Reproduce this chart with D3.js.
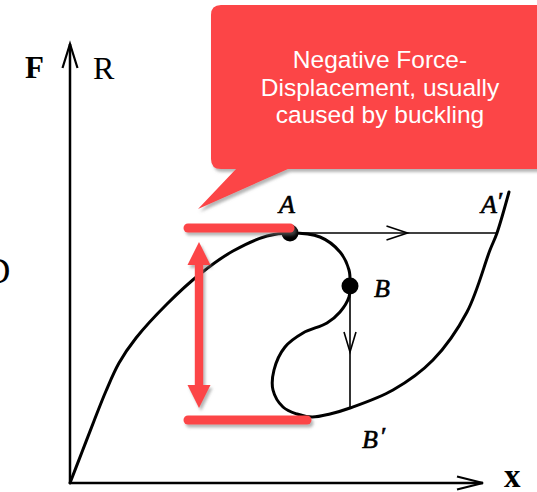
<!DOCTYPE html>
<html>
<head>
<meta charset="utf-8">
<script src="https://cdn.jsdelivr.net/npm/d3@7"></script>
<style>
  html, body { margin: 0; padding: 0; background: #fff; }
  svg { display: block; }
</style>
</head>
<body>
<div id="chart"></div>
<script>
// Force-displacement path with snap-through (values in arbitrary units)
const displacement = [0, 1.2, 2.4, 3.6, 4.9, 6.6, 9.7, 13.0, 16.3, 19.7, 22.0,
  25.0, 27.0, 27.9, 28.0, 27.9, 27.0, 25.7, 23.3, 21.5, 20.4, 20.3, 21.3, 22.7, 24.2, 26.0, 28.0,
  32.3, 36.3, 39.7, 42.0, 42.7, 43.9];
const force = [0, 3.1, 6.2, 9.2, 12.0, 14.5, 17.9, 20.9, 23.2, 24.7, 25.0,
  24.6, 23.1, 21.3, 19.7, 18.6, 17.1, 16.0, 15.0, 13.6, 11.3, 9.3, 7.6, 6.9, 6.6, 6.9, 7.5,
  9.3, 12.3, 17.1, 23.3, 25.0, 29.1];

// named states on the path
const pointNames = ['A', 'B', "A'", "B'"];
const pointX = [22.0, 28.0, 42.7, 28.0];
const pointY = [25.0, 19.7, 25.0, 7.5];

// red annotation: force drop between peak and valley
const peakForce = 25.5;
const valleyForce = 6.3;
const bandStart = 11.8;
const bandEnd = [22.0, 23.7];
const arrowAt = 12.9;
const arrowTips = [24.1, 7.5];

const calloutLines = ['Negative Force-', 'Displacement, usually', 'caused by buckling'];

const width = 537, height = 492;
const red = '#fc4446';

const x = d3.scaleLinear().domain([0, 41]).range([70, 480]);
const y = d3.scaleLinear().domain([0, 43.2]).range([483, 51]);

const svg = d3.select('#chart').append('svg')
  .attr('width', width)
  .attr('height', height);

const defs = svg.append('defs');
defs.append('filter').attr('id', 'shadow')
  .attr('x', '-10%').attr('y', '-10%').attr('width', '130%').attr('height', '140%')
  .append('feDropShadow')
  .attr('dx', 2).attr('dy', 3).attr('stdDeviation', 1.8)
  .attr('flood-color', '#777').attr('flood-opacity', 0.55);

const serif = '"Liberation Serif", "Times New Roman", serif';

// axes
const xMax = 41.3, yMax = 43.9;
svg.append('line')
  .attr('x1', x(0)).attr('y1', y(0)).attr('x2', x(xMax)).attr('y2', y(0))
  .attr('stroke', '#000').attr('stroke-width', 2.5);
svg.append('line')
  .attr('x1', x(0)).attr('y1', y(0)).attr('x2', x(0)).attr('y2', y(yMax))
  .attr('stroke', '#000').attr('stroke-width', 2.5);

// open chevrons
function chevron(tx, ty, dx, dy, len, half, sw) {
  // dx,dy: unit direction of travel
  const bx = tx - dx * len, by = ty - dy * len;
  const px = -dy * half, py = dx * half;
  return svg.append('path')
    .attr('d', `M${bx + px},${by + py}L${tx},${ty}L${bx - px},${by - py}`)
    .attr('fill', 'none').attr('stroke', '#000')
    .attr('stroke-width', sw).attr('stroke-linejoin', 'miter');
}
chevron(x(0), y(yMax), 0, -1, 24, 7.5, 2.2);
chevron(x(xMax), y(0), 1, 0, 26, 6.5, 2.2);

// axis labels
svg.append('text').attr('x', 25).attr('y', 78)
  .attr('font-family', serif).attr('font-weight', 'bold').attr('font-size', 31)
  .text('F');
svg.append('text').attr('x', 93).attr('y', 79)
  .attr('font-family', serif).attr('font-size', 32)
  .text('R');
svg.append('text').attr('x', 504).attr('y', 487)
  .attr('font-family', serif).attr('font-weight', 'bold').attr('font-size', 33)
  .text('x');
svg.append('text').attr('x', -15).attr('y', 283)
  .attr('font-family', serif).attr('font-size', 35)
  .text('D');

// snap-through jumps
const iA = 0, iB = 1, iA2 = 2, iB2 = 3;
svg.append('line')
  .attr('x1', x(pointX[iA])).attr('y1', y(pointY[iA]))
  .attr('x2', x(pointX[iA2])).attr('y2', y(pointY[iA2]))
  .attr('stroke', '#000').attr('stroke-width', 1.6);
chevron((x(pointX[iA]) + x(pointX[iA2])) / 2 + 14, y(pointY[iA]), 1, 0, 21, 7, 1.6);

svg.append('line')
  .attr('x1', x(pointX[iB])).attr('y1', y(pointY[iB]))
  .attr('x2', x(pointX[iB2])).attr('y2', y(pointY[iB2]))
  .attr('stroke', '#000').attr('stroke-width', 1.6);
chevron(x(pointX[iB]), (y(pointY[iB]) + y(pointY[iB2])) / 2 + 5, 0, 1, 20, 6, 1.6);

// main curve
const pts = displacement.map((d, i) => [d, force[i]]);
svg.append('path')
  .datum(pts)
  .attr('d', d3.line().x(d => x(d[0])).y(d => y(d[1])).curve(d3.curveCatmullRom.alpha(0.5)))
  .attr('fill', 'none').attr('stroke', '#000').attr('stroke-width', 3)
  .attr('stroke-linecap', 'round');

// dots at A and B
svg.selectAll('circle.state')
  .data([iA, iB])
  .enter().append('circle')
  .attr('class', 'state')
  .attr('cx', i => x(pointX[i])).attr('cy', i => y(pointY[i]))
  .attr('r', 8.5).attr('fill', '#000');

// point labels
const labelOffset = [[-11, -20], [24, 11], [-16, -20], [12, 40]];
const labels = svg.selectAll('text.state')
  .data(pointNames)
  .enter().append('text')
  .attr('class', 'state')
  .attr('x', (d, i) => x(pointX[i]) + labelOffset[i][0])
  .attr('y', (d, i) => y(pointY[i]) + labelOffset[i][1])
  .attr('font-family', serif).attr('font-style', 'italic').attr('font-size', 26)
  .attr('stroke', '#000').attr('stroke-width', 0.6);
labels.append('tspan').text(d => d[0]);
labels.filter(d => d.length > 1).append('tspan')
  .attr('dx', d => d === "B'" ? 3 : 1).attr('dy', -3)
  .attr('font-style', 'normal')
  .text('\u2032');

// red annotation
const ann = svg.append('g').attr('filter', 'url(#shadow)');
[peakForce, valleyForce].forEach((f, i) => {
  ann.append('line')
    .attr('x1', x(bandStart)).attr('y1', y(f))
    .attr('x2', x(bandEnd[i])).attr('y2', y(f))
    .attr('stroke', red).attr('stroke-width', 9).attr('stroke-linecap', 'round');
});
const ax = x(arrowAt), tipTop = y(arrowTips[0]), tipBot = y(arrowTips[1]);
const headLen = 23, headHalf = 11.5, shaftHalf = 4.2;
ann.append('path')
  .attr('d', `M${ax},${tipTop}L${ax + headHalf},${tipTop + headLen}L${ax + shaftHalf},${tipTop + headLen}` +
    `L${ax + shaftHalf},${tipBot - headLen}L${ax + headHalf},${tipBot - headLen}L${ax},${tipBot}` +
    `L${ax - headHalf},${tipBot - headLen}L${ax - shaftHalf},${tipBot - headLen}` +
    `L${ax - shaftHalf},${tipTop + headLen}L${ax - headHalf},${tipTop + headLen}Z`)
  .attr('fill', red);

// callout
const bx0 = 211, by0 = 5, bx1 = 548, by1 = 169, rad = 10;
svg.append('path')
  .attr('d', `M${bx0 + rad},${by0}L${bx1},${by0}L${bx1},${by1}L288,${by1}L198,209L236,${by1}` +
    `L${bx0 + rad},${by1}Q${bx0},${by1} ${bx0},${by1 - rad}L${bx0},${by0 + rad}Q${bx0},${by0} ${bx0 + rad},${by0}Z`)
  .attr('fill', red)
  .attr('filter', 'url(#shadow)');

svg.append('g').selectAll('text')
  .data(calloutLines)
  .enter().append('text')
  .attr('x', 380)
  .attr('y', (d, i) => 68 + i * 27.5)
  .attr('text-anchor', 'middle')
  .attr('fill', '#fff')
  .attr('font-family', '"Liberation Sans", Arial, sans-serif')
  .attr('font-size', 24.5)
  .text(d => d);
</script>
</body>
</html>
